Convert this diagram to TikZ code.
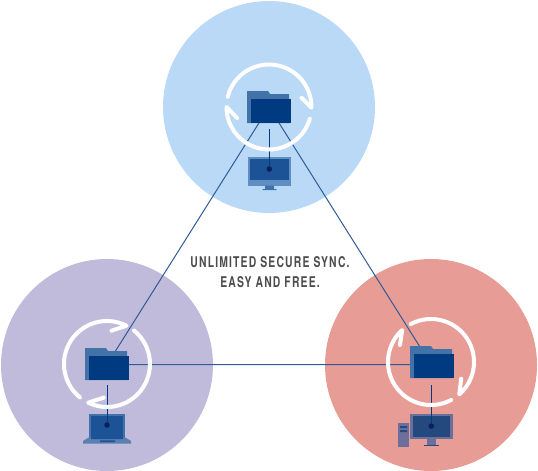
\documentclass[tikz,border=0pt]{standalone}
\usepackage{fontspec}
\newfontfamily\captionfont[FakeStretch=0.7,LetterSpace=8]{TeX Gyre Heros}
\definecolor{CloudBlue}{HTML}{B9D9F7}
\definecolor{CloudLilac}{HTML}{C1BBDB}
\definecolor{CloudRose}{HTML}{E79C95}
\definecolor{LinkBlue}{HTML}{2F5C96}
\definecolor{FolderBack}{HTML}{4272A8}
\definecolor{FolderFront}{HTML}{003A80}
\definecolor{ScreenBlue}{HTML}{1C5296}
\definecolor{MonitorFrame}{HTML}{5F8FC0}
\definecolor{LaptopFrame}{HTML}{5A7FB0}
\definecolor{DeskFrame}{HTML}{6D6F9B}
\definecolor{DeskScreen}{HTML}{24497F}
\definecolor{DotNavy}{HTML}{0A1F5C}
\definecolor{CaptionGrey}{HTML}{4D4D4F}
\tikzset{
  cloudarea/.style={circle,minimum size=212pt,inner sep=0pt},
  folderfront/.style={fill=FolderFront,minimum width=40pt,minimum height=24pt,inner sep=0pt},
  syncring/.style={white,line width=4pt,line cap=round,line join=round},
  linkline/.style={LinkBlue,line width=1pt},
  dropline/.style={FolderFront,line width=1pt},
  devicedot/.style={circle,fill=DotNavy,minimum size=5.5pt,inner sep=0pt}
}

\begin{document}
\begin{tikzpicture}[x=1pt,y=-1pt,line cap=butt]
  \useasboundingbox (0,0) rectangle (538,471);
  \coordinate (hubT) at (269,107);
  \coordinate (hubL) at (107,364.5);
  \coordinate (hubR) at (431,364.5);

  \node[cloudarea,fill=CloudBlue] (cloudT) at (269,107) {};
  \node[cloudarea,fill=CloudLilac] (cloudL) at (107,365) {};
  \node[cloudarea,fill=CloudRose] (cloudR) at (431,365) {};

  % top monitor
  \fill[MonitorFrame] (248,157) rectangle (291,185.7);
  \fill[ScreenBlue] (250,159) rectangle (289,180);
  \fill[FolderBack] (265,185.7) rectangle (274,189) (262.7,189) rectangle (276.7,190);
  % laptop
  \fill[FolderBack] (89,414) rectangle (125,437.5);
  \fill[ScreenBlue] (91,416) rectangle (123,436.7);
  \fill[LaptopFrame] (89,437.3)--(125,437.3)--(131,441)--(131,443.7)--(83,443.7)--(83,441)--cycle;
  \fill[ScreenBlue] (91,437) rectangle (123,439) (100,440.3) rectangle (115,442);
  % desktop
  \fill[DeskFrame] (410,414) rectangle (453,439);
  \fill[DeskScreen] (413,416) rectangle (450,437);
  \fill[DeskFrame] (427,439) rectangle (436,445);
  \fill[DeskScreen] (424,445) rectangle (439,446);
  \fill[DeskFrame] (398,423) rectangle (409,447);
  \fill[DeskScreen] (400,426) rectangle (407,428) (400,430) rectangle (407,432);

  \draw[linkline] (hubT)--(hubL) (hubL)--(hubR) (hubR)--(hubT);

  \node[devicedot] (dotT) at (269.3,169) {};
  \node[devicedot] (dotL) at (107,425) {};
  \node[devicedot] (dotR) at (431.3,426) {};
  \coordinate (dropT) at (269.3,129);
  \coordinate (dropL) at (107,385);
  \coordinate (dropR) at (431.3,385);
  \foreach \P in {T,L,R}{\draw[dropline] (drop\P)--(dot\P);}

  \draw[syncring] (269,107) ++(-166:42.5) arc[start angle=-166,end angle=1,radius=42.5] -- ++(-10,-10);
  \draw[syncring] (269,107) ++(16:42.5) arc[start angle=16,end angle=180,radius=42.5] -- ++(10.7,11);
  \draw[syncring] (107,364) ++(-231:43) arc[start angle=-231,end angle=-63,radius=43] -- ++(-15,5);
  \draw[syncring] (107,364) ++(-51:43) arc[start angle=-51,end angle=116,radius=43] -- ++(15.7,-5);
  \draw[syncring] (431,362) ++(62:43) arc[start angle=62,end angle=228,radius=43] -- ++(-2.3,15);
  \draw[syncring] (431,362) ++(-118:43) arc[start angle=-118,end angle=49,radius=43] -- ++(2,-15.7);

  \foreach \P/\X/\Y in {T/271/111,L/109/368,R/434/366}{
    \fill[FolderBack] (\X-24,\Y-20) -- (\X-3,\Y-20) -- (\X-1,\Y-17) -- (\X+18,\Y-17) -- (\X+18,\Y+12) -- (\X-24,\Y+12) -- cycle;
    \node[folderfront] (folder\P) at (\X,\Y) {};
  }

  \node[text=CaptionGrey,align=center,font=\captionfont\bfseries\fontsize{14.8pt}{20pt}\selectfont] (caption) at (270,272) {UNLIMITED SECURE SYNC.\\EASY AND FREE.};
\end{tikzpicture}
\end{document}
